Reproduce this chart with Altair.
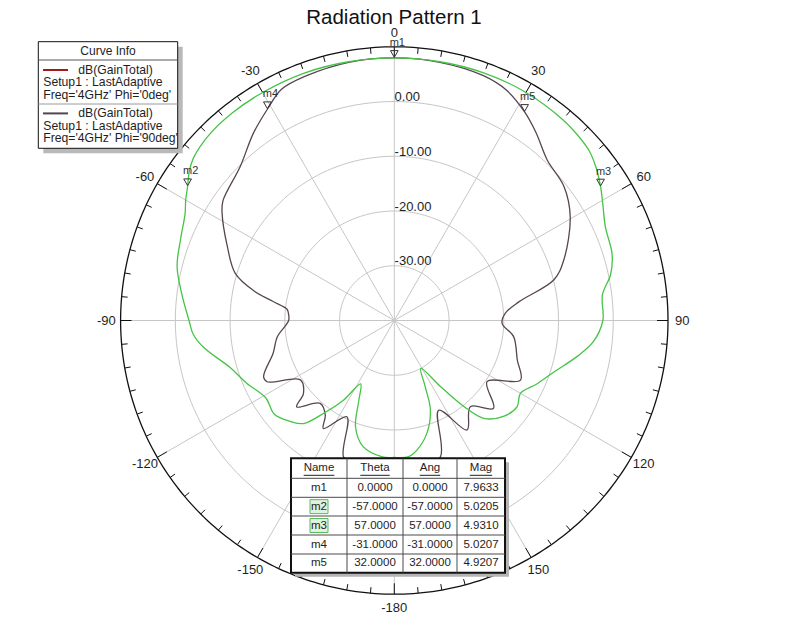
import altair as alt
import numpy as np
import pandas as pd

# ---------------- data ----------------
TITLE = "Radiation Pattern 1"

# Curve 1: dB(GainTotal), Phi = 0deg  (theta in degrees, gain in dB)
phi0_theta = [-180, -175, -166, -160, -156, -152, -147.5, -142.7, -138.6, -134,
              -128, -121, -113, -106, -98, -94, -90, -83, -76, -69,
              -63, -60, -57, -54, -51, -45, -38, -30, -20, -10,
              0, 10, 20, 30, 40, 45, 49, 53, 57, 60,
              66, 73, 78, 83, 90, 96, 101, 108, 114, 120,
              125, 131, 137.6, 141, 145, 151, 155, 158, 164, 170,
              174, 180]
phi0_db = [-15.0, -15.0, -16.3, -19.3, -24.1, -26.9, -22.8, -18.7, -14.9, -13.5,
           -12.2, -12.6, -10.7, -8.8, -4.8, -3.2, -2.5, -0.9, 0.9, 1.8,
           2.9, 4.0, 5.02, 6.3, 7.2, 7.9, 8.1, 8.1, 8.1, 8.0,
           7.96, 8.0, 8.1, 8.1, 7.9, 7.6, 7.2, 6.2, 4.93, 3.9,
           2.2, 1.6, 0.4, -1.7, -1.9, -3.4, -5.9, -9.4, -11.5, -13.4,
           -12.6, -13.4, -15.8, -19.8, -25.3, -30.0, -26.6, -22.4, -18.5, -16.0,
           -15.0, -15.0]

# Curve 2: dB(GainTotal), Phi = 90deg
phi90_theta = [-180, -170, -164, -159.6, -153.8, -146.7, -143.9, -138.2, -131.5, -128.8,
               -122.3, -115.7, -113.3, -105, -98, -90, -86, -84, -81, -78,
               -73.5, -66, -58, -55, -45, -37, -31, -26, -20, -10,
               0, 10, 20, 26, 32, 37, 43.6, 51.7, 59.5, 70.3,
               75.7, 81.5, 86.3, 91.5, 97.7, 107.8, 115.3, 123.4, 131.5, 138.6,
               146.4, 153.7, 161.3, 170, 180]
phi90_db = [-11.5, -12.3, -12.8, -13.4, -20.4, -16.4, -18.6, -19.7, -16.2, -18.7,
            -19.7, -14.2, -14.0, -17.1, -18.4, -20.7, -20.6, -20.3, -17.5, -13.7,
            -9.7, -6.6, -2.9, -1.8, -0.2, 2.8, 5.02, 7.0, 7.5, 7.9,
            7.96, 7.9, 7.6, 6.8, 4.92, 3.0, 0.5, -0.5, -2.7, -7.1,
            -9.9, -17.0, -19.7, -20.3, -18.0, -16.4, -14.5, -19.7, -15.8, -19.0,
            -16.0, -21.7, -13.7, -12.3, -11.5]

marker_names = ["m1", "m2", "m3", "m4", "m5"]
marker_theta = [0.0, -57.0, 57.0, -31.0, 32.0]
marker_ang = [0.0, -57.0, 57.0, -31.0, 32.0]
marker_mag = [7.9633, 5.0205, 4.9310, 5.0207, 4.9207]
table_headers = ["Name", "Theta", "Ang", "Mag"]

ring_db = [0, -10, -20, -30]
ring_labels = ["0.00", "-10.00", "-20.00", "-30.00"]
angle_ticks = [0, 30, 60, 90, 120, 150, 180, 210, 240, 270, 300, 330]
angle_labels = ["0", "30", "60", "90", "120", "150", "-180", "-150", "-120", "-90", "-60", "-30"]

legend_title = "Curve Info"
legend_lines = [
    ["dB(GainTotal)", "Setup1 : LastAdaptive", "Freq='4GHz' Phi='0deg'"],
    ["dB(GainTotal)", "Setup1 : LastAdaptive", "Freq='4GHz' Phi='90deg'"],
]

# ---------------- styling / layout ----------------
GREEN = "#45c445"
DARK = "#574651"
LEG_COLORS = ["#a31a1a", "#4f4650"]
GRID = "#c6c6c6"
FONT = "Liberation Sans"
TXT = "#1e1e1e"

W, H = 784, 606
CX, CY = 386.3, 312.5      # centre of the polar plot (view pixels)
PPU = 5.474                # pixels per dB
DB0 = 40                   # centre of plot is -40 dB
R_OUT = 50                 # outer ring = +10 dB


def ux(p):
    return (p - CX) / PPU


def uy(p):
    return (CY - p) / PPU


XS = alt.Scale(domain=[ux(0), ux(W)], nice=False, zero=False)
YS = alt.Scale(domain=[uy(H), uy(0)], nice=False, zero=False)


def xenc(f):
    return alt.X(f"{f}:Q", scale=XS, axis=None)


def yenc(f):
    return alt.Y(f"{f}:Q", scale=YS, axis=None)


PX = "datum.r*sin(datum.t*PI/180)"
PY = "datum.r*cos(datum.t*PI/180)"

# ---- grid rings ----
ring_rows = []
for k, d in enumerate(ring_db):
    for a in range(0, 361, 2):
        ring_rows.append(dict(ring=k, t=a, r=d + DB0))
rings = alt.Chart(pd.DataFrame(ring_rows)).transform_calculate(px=PX).transform_calculate(py=PY).mark_line(
    color=GRID, strokeWidth=1).encode(x=xenc("px"), y=yenc("py"), order="t:Q", detail="ring:N")

outer_rows = [dict(t=a, r=R_OUT) for a in range(0, 361, 1)]
outer = alt.Chart(pd.DataFrame(outer_rows)).transform_calculate(px=PX).transform_calculate(py=PY).mark_line(
    color="#111111", strokeWidth=1.3).encode(x=xenc("px"), y=yenc("py"), order="t:Q")

spokes = alt.Chart(pd.DataFrame({"t": angle_ticks})).transform_calculate(
    x0="0").transform_calculate(y0="0").transform_calculate(
    x1=f"{R_OUT}*sin(datum.t*PI/180)").transform_calculate(
    y1=f"{R_OUT}*cos(datum.t*PI/180)").mark_rule(color=GRID, strokeWidth=1).encode(
    x=xenc("x0"), y=yenc("y0"), x2=alt.X2("x1"), y2=alt.Y2("y1"))

ticks = alt.Chart(pd.DataFrame({"t": list(range(0, 360, 5))})).transform_calculate(
    l="datum.t % 30 == 0 ? 2.0 : 1.1").transform_calculate(
    x0=f"{R_OUT}*sin(datum.t*PI/180)").transform_calculate(
    y0=f"{R_OUT}*cos(datum.t*PI/180)").transform_calculate(
    x1=f"({R_OUT}-datum.l)*sin(datum.t*PI/180)").transform_calculate(
    y1=f"({R_OUT}-datum.l)*cos(datum.t*PI/180)").mark_rule(color="#111111", strokeWidth=1).encode(
    x=xenc("x0"), y=yenc("y0"), x2=alt.X2("x1"), y2=alt.Y2("y1"))

ang_lab = alt.Chart(pd.DataFrame({"t": angle_ticks, "lab": angle_labels})).transform_calculate(
    r="52.6").transform_calculate(px=PX).transform_calculate(py=PY).mark_text(
    font=FONT, fontSize=13, color=TXT, baseline="middle").encode(x=xenc("px"), y=yenc("py"), text="lab:N")

rad_lab = alt.Chart(pd.DataFrame({"d": ring_db, "lab": ring_labels})).transform_calculate(
    px="0.05").transform_calculate(py=f"datum.d + {DB0} + 0.8").mark_text(
    font=FONT, fontSize=13, color=TXT, align="left", baseline="middle").encode(
    x=xenc("px"), y=yenc("py"), text="lab:N")


# ---- curves ----
def curve(theta, db, color):
    df = pd.DataFrame({"t": theta, "db": db, "i": range(len(theta))})
    return alt.Chart(df).transform_calculate(r=f"datum.db + {DB0}").transform_calculate(
        px=PX).transform_calculate(py=PY).mark_line(
        color=color, strokeWidth=1.3, interpolate="catmull-rom").encode(
        x=xenc("px"), y=yenc("py"), order="i:Q")


c90 = curve(phi90_theta, phi90_db, DARK)
c0 = curve(phi0_theta, phi0_db, GREEN)

# ---- markers ----
mk = alt.Chart(pd.DataFrame({"name": marker_names, "t": marker_theta, "mag": marker_mag})).transform_calculate(
    r=f"datum.mag + {DB0}").transform_calculate(px=PX).transform_calculate(py=PY)
tri = mk.mark_point(shape="triangle-down", filled=False, size=60, color="#333333", strokeWidth=1,
                    yOffset=-4, opacity=1).encode(x=xenc("px"), y=yenc("py"))
mlab = mk.mark_text(font=FONT, fontSize=11, color="#333333", dx=3, dy=-15).encode(
    x=xenc("px"), y=yenc("py"), text="name:N")


# ---- helpers for boxes, lines and texts placed in view pixels ----
def rects(rows, **kw):
    df = pd.DataFrame([dict(a=ux(x0), b=ux(x1), c=uy(y0), d=uy(y1)) for x0, y0, x1, y1 in rows])
    return alt.Chart(df).mark_rect(**kw).encode(x=xenc("a"), x2=alt.X2("b"), y=yenc("c"), y2=alt.Y2("d"))


def rules(rows, **kw):
    df = pd.DataFrame([dict(a=ux(x0), b=ux(x1), c=uy(y0), d=uy(y1)) for x0, y0, x1, y1 in rows])
    return alt.Chart(df).mark_rule(**kw).encode(x=xenc("a"), x2=alt.X2("b"), y=yenc("c"), y2=alt.Y2("d"))


def texts(rows, **kw):
    df = pd.DataFrame([dict(px=ux(x), py=uy(y), txt=s) for x, y, s in rows])
    return alt.Chart(df).mark_text(font=FONT, baseline="middle", color=TXT, **kw).encode(
        x=xenc("px"), y=yenc("py"), text="txt:N")


# ---- legend (Curve Info) ----
LX0, LY0, LX1, LY1 = 30.3, 33.7, 169.7, 140.3
leg_shadow = rects([(LX0 + 5, LY0 + 5, LX1 + 5, LY1 + 5)], color="#b9b9b9")
leg_box = rects([(LX0, LY0, LX1, LY1)], fill="white", stroke="#111111", strokeWidth=1)
leg_seps = rules([(LX0, 52, LX1, 52)], color="#555555", strokeWidth=1) + \
    rules([(LX0, 96, LX1, 96)], color="#9a9a9a", strokeWidth=1)
leg_head = texts([((LX0 + LX1) / 2, 42.7, legend_title)], fontSize=12)
block_y = [62, 105.4]
offs = [0, 12.4, 24.8]
first_rows, other_rows = [], []
for k, lines in enumerate(legend_lines):
    first_rows.append((70.3, block_y[k] + offs[0], lines[0]))
    for j in (1, 2):
        other_rows.append((35.3, block_y[k] + offs[j], lines[j]))
leg_txt = texts(first_rows + other_rows, fontSize=12.2, align="left")
leg_sw = rules([(35, block_y[0], 60, block_y[0])], color=LEG_COLORS[0], strokeWidth=2) + \
    rules([(35, block_y[1], 60, block_y[1])], color=LEG_COLORS[1], strokeWidth=2)

# ---- marker table ----
colb = [283, 339, 395, 449, 497]
rowb = [450.3, 470.3, 489.3, 508, 527, 546, 564.7]
tb_shadow = rects([(colb[0] + 4, rowb[0] + 4, colb[-1] + 4, rowb[-1] + 4)], color="#b4b4b4")
tb_box = rects([(colb[0], rowb[0], colb[-1], rowb[-1])], fill="white", stroke="#111111", strokeWidth=2)
tb_lines = rules([(c, rowb[0], c, rowb[-1]) for c in colb[1:-1]] +
                 [(colb[0], r, colb[-1], r) for r in rowb[1:-1]], color="#4a4a4a", strokeWidth=1)
ccent = [(colb[i] + colb[i + 1]) / 2 for i in range(4)]
rcent = [(rowb[i] + rowb[i + 1]) / 2 for i in range(6)]
CW = {"N": .722, "a": .556, "m": .833, "e": .556, "T": .611, "h": .556, "t": .278, "A": .667,
      "n": .556, "g": .556, "M": .833}
hdr_rows, ul_rows = [], []
for i, h in enumerate(table_headers):
    hdr_rows.append((ccent[i], rcent[0], h))
    w = sum(CW.get(ch, .556) for ch in h) * 11.5
    ul_rows.append((ccent[i] - w / 2, rcent[0] + 7, ccent[i] + w / 2, rcent[0] + 7))
cell_rows = []
hl_rows = []
for j in range(len(marker_names)):
    vals = [marker_names[j], f"{marker_theta[j]:.4f}", f"{marker_ang[j]:.4f}", f"{marker_mag[j]:.4f}"]
    for i, v in enumerate(vals):
        cell_rows.append((ccent[i], rcent[j + 1], v))
    if marker_names[j] in ("m2", "m3"):
        hl_rows.append((ccent[0] - 9, rcent[j + 1] - 7, ccent[0] + 9, rcent[j + 1] + 7))
tb_hl = rects(hl_rows, fill="#dff2df", stroke="#5cb85c", strokeWidth=1)
tb_hdr = texts(hdr_rows, fontSize=11.5)
tb_ul = rules(ul_rows, color=TXT, strokeWidth=1)
tb_cells = texts(cell_rows, fontSize=11.5)

title = alt.Chart(pd.DataFrame({"px": [ux(386)], "py": [uy(15.5)], "txt": [TITLE]})).mark_text(
    font=FONT, fontSize=20.5, color="#111111", baseline="alphabetic").encode(
    x=xenc("px"), y=yenc("py"), text="txt:N")

chart = alt.layer(
    rings, spokes, outer, ticks, rad_lab, ang_lab,
    c90, c0, tri, mlab,
    leg_shadow, leg_box, leg_seps, leg_head, leg_txt, leg_sw,
    tb_shadow, tb_box, tb_hl, tb_lines, tb_hdr, tb_ul, tb_cells,
    title,
).properties(
    width=W, height=H, autosize=alt.AutoSizeParams(type="none"), padding=0, background="white"
).configure_view(stroke=None)

chart.save("out.html", embed_options={"renderer": "svg", "actions": False})
